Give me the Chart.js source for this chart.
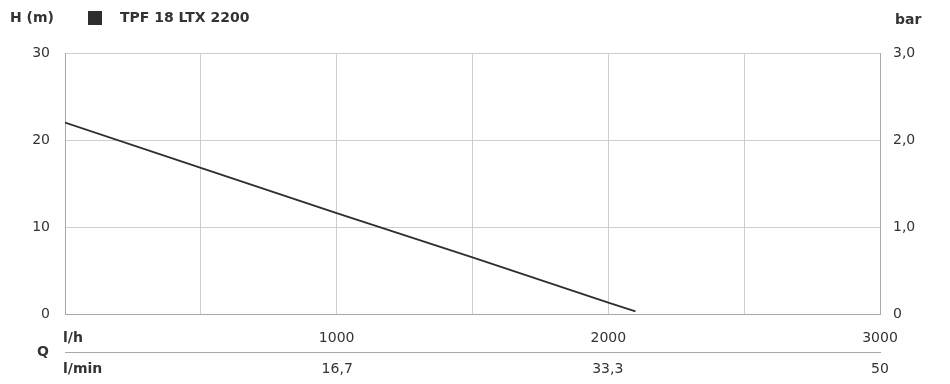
<!DOCTYPE html>
<html>
<head>
<meta charset="utf-8">
<script src="https://cdn.jsdelivr.net/npm/chart.js@4"></script>
<style>
    html, body { margin: 0; padding: 0; background: #fff; }
    #wrap { width: 950px; height: 384px; }
</style>
</head>
<body>
<div id="wrap"><canvas id="pumpChart"></canvas></div>
<script>
// Data
const seriesName = 'TPF 18 LTX 2200';
const flowLh = [0, 500, 1000, 1500, 2000, 2100];
const headM = [22, 16.8, 11.6, 6.5, 1.3, 0.3];

// Axis ticks
const lhTicks = [0, 500, 1000, 1500, 2000, 2500, 3000];
const lhLabels = ['', '', '1000', '', '2000', '', '3000'];
const lminTicks = [16.7, 33.3, 50];
const lminLabels = ['16,7', '33,3', '50'];
const headTicks = [0, 10, 20, 30];
const barTicks = [0, 1, 2, 3];
const barLabels = ['0', '1,0', '2,0', '3,0'];

const textColor = '#333333';
const gridColor = '#cdcdcd';
const borderColor = '#a8a8a8';
const font = 'DejaVu Sans, sans-serif';

// Header text and the Q / l/h / l/min labels
const labelsPlugin = {
    id: 'labels',
    afterDraw(chart) {
        const ctx = chart.ctx;
        const area = chart.chartArea;
        const x2 = chart.scales.x2;
        ctx.save();
        ctx.fillStyle = textColor;
        ctx.font = 'bold 14px ' + font;
        ctx.textBaseline = 'middle';
        ctx.textAlign = 'left';
        ctx.fillText('H (m)', 10, 18);
        ctx.fillStyle = chart.data.datasets[0].borderColor;
        ctx.fillRect(88, 11, 14, 14);
        ctx.fillStyle = textColor;
        ctx.fillText(chart.data.datasets[0].label, 120, 18);
        ctx.fillText('bar', area.right + 15, 20);

        ctx.fillText('l/h', area.left - 2, 338);
        ctx.fillText('l/min', area.left - 2, 369);
        ctx.fillText('Q', 37, x2.top);
        ctx.restore();
    }
};

const ctx = document.getElementById('pumpChart').getContext('2d');
new Chart(ctx, {
    type: 'scatter',
    data: {
        datasets: [{
            label: seriesName,
            data: flowLh.map((q, i) => ({ x: q, y: headM[i] })),
            showLine: true,
            borderColor: '#2e2e2e',
            borderWidth: 1.8,
            pointRadius: 0,
            tension: 0
        }]
    },
    options: {
        responsive: true,
        maintainAspectRatio: false,
        animation: false,
        layout: { padding: { top: 53 } },
        plugins: {
            legend: { display: false },
            tooltip: { enabled: false }
        },
        scales: {
            x: {
                type: 'linear',
                position: 'bottom',
                min: 0,
                max: 3000,
                afterBuildTicks: s => { s.ticks = lhTicks.map(v => ({ value: v })); },
                afterFit: s => { s.height = 38; },
                grid: { color: gridColor, drawTicks: false },
                border: { color: borderColor },
                ticks: {
                    autoSkip: false,
                    maxRotation: 0,
                    padding: 16,
                    color: textColor,
                    font: { size: 14, family: font },
                    callback: (v, i) => lhLabels[i]
                }
            },
            x2: {
                type: 'linear',
                position: 'bottom',
                min: 0,
                max: 50,
                afterBuildTicks: s => { s.ticks = lminTicks.map(v => ({ value: v })); },
                afterFit: s => { s.height = 32; },
                grid: { display: false, drawTicks: false },
                border: { color: borderColor },
                ticks: {
                    autoSkip: false,
                    maxRotation: 0,
                    padding: 9,
                    color: textColor,
                    font: { size: 14, family: font },
                    callback: (v, i) => lminLabels[i]
                }
            },
            y: {
                position: 'left',
                min: 0,
                max: 30,
                afterBuildTicks: s => { s.ticks = headTicks.map(v => ({ value: v })); },
                afterFit: s => { s.width = 65; },
                grid: { color: gridColor, drawTicks: false },
                border: { color: borderColor },
                ticks: {
                    padding: 15,
                    color: textColor,
                    font: { size: 14, family: font }
                }
            },
            y2: {
                position: 'right',
                min: 0,
                max: 3,
                afterBuildTicks: s => { s.ticks = barTicks.map(v => ({ value: v })); },
                afterFit: s => { s.width = 70; },
                grid: { display: false, drawTicks: false },
                border: { color: borderColor },
                ticks: {
                    padding: 13,
                    color: textColor,
                    font: { size: 14, family: font },
                    callback: (v, i) => barLabels[i]
                }
            }
        }
    },
    plugins: [labelsPlugin]
});
</script>
</body>
</html>
